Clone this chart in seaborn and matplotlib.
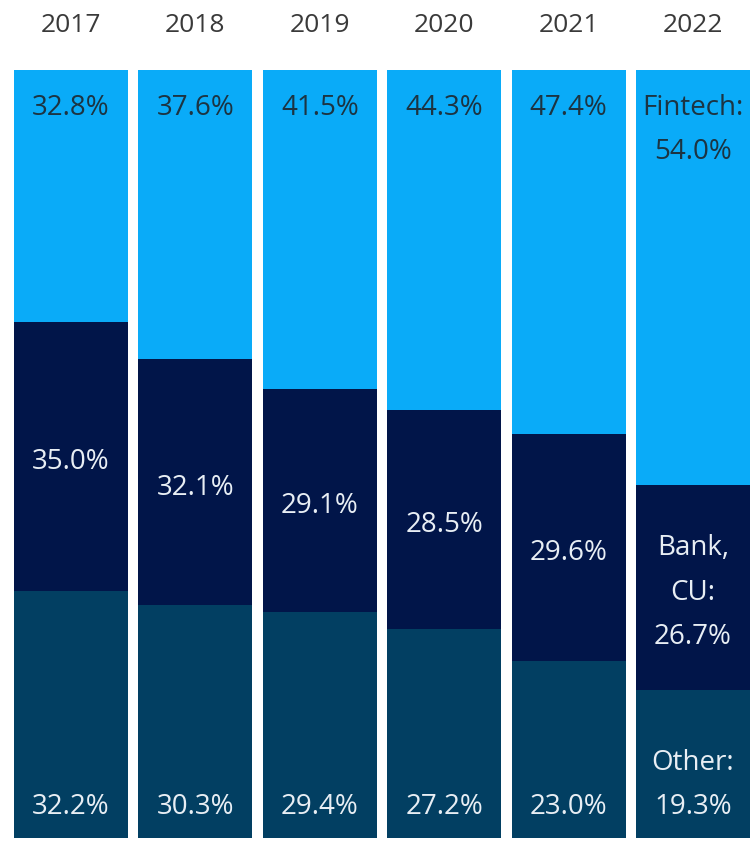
import matplotlib
matplotlib.use("Agg")
import matplotlib.pyplot as plt
import seaborn as sns
import pandas as pd
import numpy as np

years = ["2017", "2018", "2019", "2020", "2021", "2022"]
fintech = [32.8, 37.6, 41.5, 44.3, 47.4, 54.0]
bank_cu = [35.0, 32.1, 29.1, 28.5, 29.6, 26.7]
other = [32.2, 30.3, 29.4, 27.2, 23.0, 19.3]

c_fintech = "#0AABF8"
c_bank = "#011549"
c_other = "#023F62"
txt_dark = "#1C3442"
txt_light = "#E8EEF4"

sns.set_theme(style="white")
plt.rcParams["font.family"] = ["Open Sans", "DejaVu Sans"]

df = pd.DataFrame({"year": years, "fintech": fintech, "bank": bank_cu, "other": other})
df["bank_top"] = df["other"] + df["bank"]
df["total"] = df["bank_top"] + df["fintech"]

fig = plt.figure(figsize=(7.56, 8.44), dpi=100)
ax = fig.add_axes([14 / 756, 6 / 844, 736 / 756, 768 / 844])

w = 0.917
sns.barplot(data=df, x="year", y="total", color=c_fintech, width=w, saturation=1, ax=ax, linewidth=0)
sns.barplot(data=df, x="year", y="bank_top", color=c_bank, width=w, saturation=1, ax=ax, linewidth=0)
sns.barplot(data=df, x="year", y="other", color=c_other, width=w, saturation=1, ax=ax, linewidth=0)

ax.set_xlim(-w / 2, len(years) - 1 + w / 2)
ax.set_ylim(0, 100)
ax.set_xlabel("")
ax.set_ylabel("")
ax.set_yticks([])
ax.xaxis.tick_top()
ax.tick_params(axis="x", length=0, pad=23, labelsize=19, labelcolor="#3a3a3a")
for s in ax.spines.values():
    s.set_visible(False)

fs = 20
ls = 1.78
for i in range(len(years)):
    last = i == len(years) - 1
    ft_label = f"Fintech:\n{fintech[i]:.1f}%" if last else f"{fintech[i]:.1f}%"
    bk_label = f"Bank,\nCU:\n{bank_cu[i]:.1f}%" if last else f"{bank_cu[i]:.1f}%"
    ot_label = f"Other:\n{other[i]:.1f}%" if last else f"{other[i]:.1f}%"
    top = df["total"][i]
    ax.annotate(ft_label, (i, top), xytext=(0, -17), textcoords="offset points",
                ha="center", va="top", fontsize=fs, color=txt_dark, linespacing=ls)
    ax.annotate(bk_label, (i, other[i] + bank_cu[i] / 2), xytext=(0, -4),
                textcoords="offset points", ha="center", va="center",
                fontsize=fs, color=txt_light, linespacing=ls)
    ax.annotate(ot_label, (i, 0), xytext=(0, 12), textcoords="offset points",
                ha="center", va="bottom", fontsize=fs, color=txt_light, linespacing=ls)

fig.savefig("out.png", dpi=100)
